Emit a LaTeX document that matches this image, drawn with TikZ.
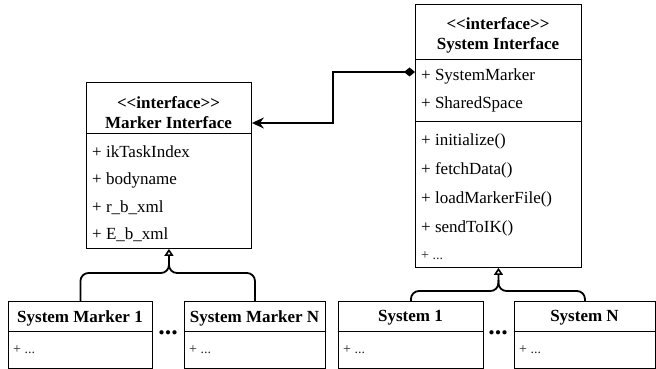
\documentclass[tikz,border=0pt]{standalone}
\usepackage{fontspec}
\setmainfont{Liberation Serif}
\usetikzlibrary{arrows.meta}
\begin{document}
\begin{tikzpicture}[x=1pt,y=-1pt,
  box/.style={draw=black,line width=0.9pt,inner sep=0pt,anchor=north west},
  ttl/.style={font=\bfseries\fontsize{17}{20}\selectfont,inner sep=0pt},
  item/.style={font=\fontsize{17}{20}\selectfont,inner sep=0pt,anchor=west},
  small/.style={font=\fontsize{14}{16}\selectfont,inner sep=0pt,anchor=west,text=black!85},
  sep/.style={draw=black,line width=0.9pt},
  conn/.style={draw=black,line width=1.8pt},
  dots/.style={font=\bfseries\fontsize{26}{26}\selectfont,inner sep=0pt}]
\useasboundingbox (0,0) rectangle (656,369);
\fill[white] (0,0) rectangle (656,369);
% Marker Interface
\node[box,minimum width=165pt,minimum height=166pt] (mi) at (86,82) {};
\draw[sep] (mi.north west |- 0,133) -- (mi.north east |- 0,133);
\node[ttl] (mit1) at (168.5,103) {{<}{<}interface{>}{>}};
\node[ttl] (mit2) at (168.5,123) {Marker Interface};
\node[item] (mia) at (92,152) {+ ikTaskIndex};
\node[item] (mib) at (92,180) {+ bodyname};
\node[item] (mic) at (92,208) {+ r\_b\_xml};
\node[item] (mid) at (92,235) {+ E\_b\_xml};
% System Interface
\node[box,minimum width=166pt,minimum height=263pt] (si) at (415,4) {};
\draw[sep] (si.north west |- 0,59) -- (si.north east |- 0,59);
\draw[sep] (si.north west |- 0,121) -- (si.north east |- 0,121);
\node[ttl] (sit1) at (498,24) {{<}{<}interface{>}{>}};
\node[ttl] (sit2) at (498,45) {System Interface};
\node[item] (sia) at (421,76) {+ SystemMarker};
\node[item] (sib) at (421,104) {+ SharedSpace};
\node[item] (sic) at (421,141) {+ initialize()};
\node[item] (sid) at (421,170) {+ fetchData()};
\node[item] (sie) at (421,199) {+ loadMarkerFile()};
\node[item] (sif) at (421,228) {+ sendToIK()};
\node[small] (sig) at (421,256) {+ ...};
% bottom boxes
\node[box,minimum width=144pt,minimum height=67pt] (sm1) at (8,301) {};
\node[box,minimum width=141pt,minimum height=67pt] (smN) at (184,301) {};
\node[box,minimum width=145pt,minimum height=67pt] (s1) at (338,301) {};
\node[box,minimum width=141pt,minimum height=67pt] (sN) at (514,301) {};
\foreach \b in {sm1,smN,s1,sN}{
  \draw[sep] (\b.north west |- 0,331) -- (\b.north east |- 0,331);
}
\node[ttl] (sm1t) at (80,318) {System Marker 1};
\node[ttl] (smNt) at (254.5,318) {System Marker N};
\node[ttl] (s1t) at (410.5,318) {System 1};
\node[ttl] (sNt) at (584.5,318) {System N};
\node[small] (sm1a) at (13,350) {+ ...};
\node[small] (smNa) at (189,350) {+ ...};
\node[small] (s1a) at (343,350) {+ ...};
\node[small] (sNa) at (519,350) {+ ...};
\node[dots] (d1) at (168,333) {...};
\node[dots] (d2) at (498,333) {...};
% inheritance
\coordinate (j1) at (mi.south |- 0,273);
\coordinate (k1) at (mi.south |- 0,262);
\draw[conn,rounded corners=8pt,-{Triangle[open,length=7pt,width=9pt,line width=1.6pt]}] (sm1.north) |- (j1) -- (mi.south);
\draw[conn,rounded corners=8pt] (smN.north) |- (j1) -- (k1);
\coordinate (j2) at (si.south |- 0,291);
\coordinate (k2) at (si.south |- 0,280);
\draw[conn,rounded corners=8pt,-{Triangle[open,length=7pt,width=9pt,line width=1.6pt]}] (s1.north) |- (j2) -- (si.south);
\draw[conn,rounded corners=8pt] (sN.north) |- (j2) -- (k2);
% composition
\coordinate (m1) at (333,123);
\draw[conn,{Diamond[length=11pt,width=9pt]}-{Stealth[length=12pt,width=11pt,inset=4pt]}] (si.west |- 0,72) -| (m1) -- (mi.east |- m1);
\end{tikzpicture}
\end{document}
